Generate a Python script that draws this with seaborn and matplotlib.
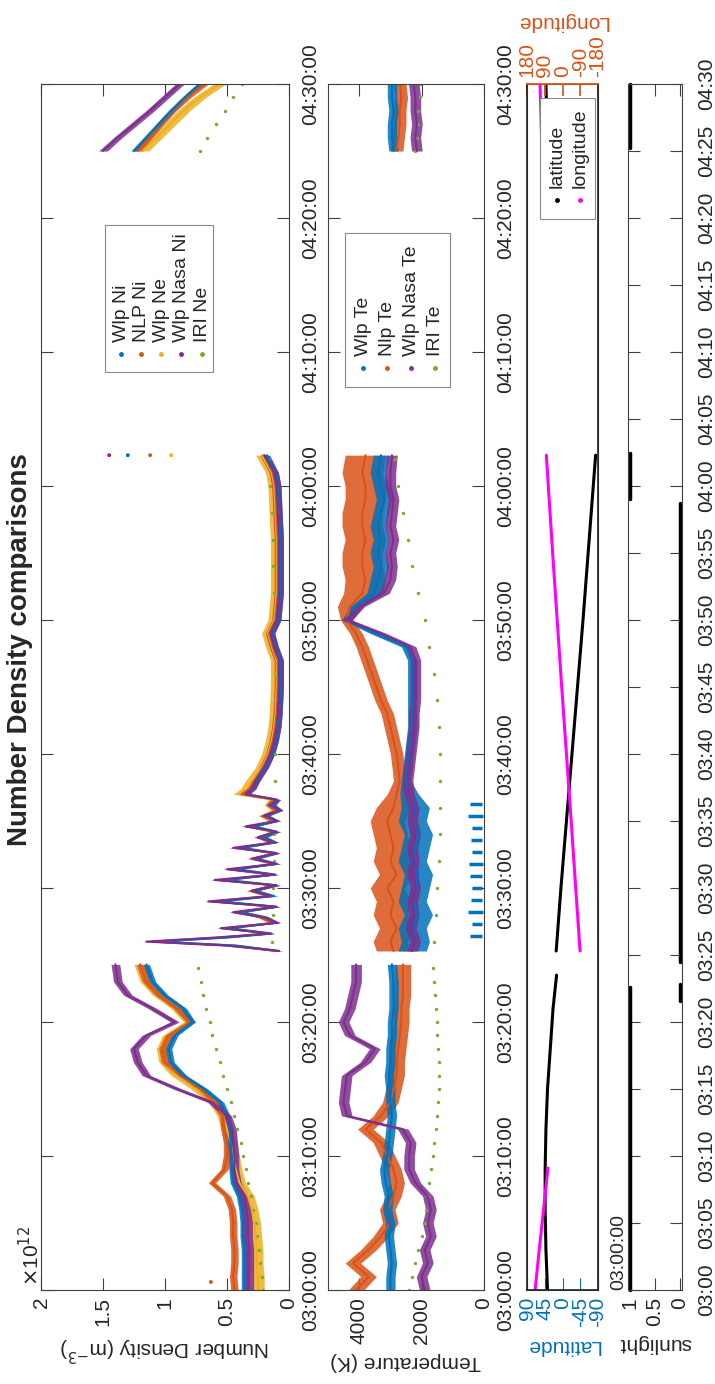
import numpy as np
import pandas as pd
import matplotlib
matplotlib.use("Agg")
import matplotlib.pyplot as plt
from matplotlib.patches import Rectangle
import seaborn as sns

# ---------------- data (time = minutes after 03:00:00) ----------------
time_labels_10 = ["03:00:00", "03:10:00", "03:20:00", "03:30:00", "03:40:00",
                  "03:50:00", "04:00:00", "04:10:00", "04:20:00", "04:30:00"]
time_labels_5 = ["03:00", "03:05", "03:10", "03:15", "03:20", "03:25", "03:30",
                 "03:35", "03:40", "03:45", "03:50", "03:55", "04:00", "04:05",
                 "04:10", "04:15", "04:20", "04:25", "04:30"]

t_A = [0, 1, 2, 3, 4, 5, 6, 7, 8, 9, 10, 11, 12, 13, 14, 15, 16, 17, 18, 19, 20, 21, 22, 23, 24.3]
t_B = [25.3, 25.7, 26.0, 26.3, 26.6, 27.0, 27.4, 27.8, 28.2, 28.6, 29.0, 29.4, 29.8, 30.2,
       30.6, 31.0, 31.4, 31.8, 32.2, 32.6, 33.0, 33.4, 33.8, 34.2, 34.6, 35.0, 35.4, 35.8,
       36.2, 36.6, 37.0, 37.4, 38, 39, 40, 41, 42, 43, 45, 47, 48, 49, 50, 52, 54, 56,
       58, 60, 61, 62.3]
t_C = [85, 86, 87, 88, 89, 90]

# Number density (x 1e12 m^-3)
wlp_ni_A = [0.36, 0.36, 0.36, 0.36, 0.37, 0.37, 0.38, 0.40, 0.45, 0.46, 0.46, 0.47, 0.48,
            0.50, 0.55, 0.68, 0.85, 0.95, 0.97, 0.92, 0.78, 0.85, 1.00, 1.10, 1.15]
nlp_ni_A = [0.44, 0.45, 0.44, 0.44, 0.45, 0.45, 0.46, 0.50, 0.62, 0.52, 0.50, 0.50, 0.52,
            0.53, 0.60, 0.72, 0.88, 1.00, 1.02, 0.97, 0.80, 0.90, 1.05, 1.15, 1.20]
wlp_ne_A = [0.25, 0.25, 0.26, 0.26, 0.27, 0.28, 0.30, 0.33, 0.40, 0.43, 0.45, 0.47, 0.50,
            0.53, 0.60, 0.74, 0.90, 1.00, 1.02, 0.97, 0.80, 0.90, 1.05, 1.15, 1.20]
nasa_ni_A = [0.32, 0.32, 0.32, 0.32, 0.33, 0.33, 0.34, 0.36, 0.42, 0.44, 0.44, 0.45, 0.46,
             0.50, 0.62, 0.90, 1.15, 1.22, 1.25, 1.15, 0.92, 1.10, 1.30, 1.38, 1.40]

wlp_ni_B = [0.08, 0.42, 1.05, 0.50, 0.14, 0.48, 0.10, 0.18, 0.38, 0.10, 0.55, 0.12, 0.27, 0.10,
            0.50, 0.11, 0.42, 0.10, 0.26, 0.10, 0.38, 0.11, 0.20, 0.10, 0.28, 0.10, 0.18, 0.08,
            0.13, 0.10, 0.34, 0.30, 0.26, 0.19, 0.14, 0.11, 0.09, 0.08, 0.07, 0.07, 0.11, 0.14,
            0.09, 0.07, 0.07, 0.07, 0.08, 0.09, 0.11, 0.18]
nlp_ni_B = [0.10, 0.45, 1.10, 0.55, 0.18, 0.50, 0.12, 0.22, 0.40, 0.12, 0.60, 0.15, 0.30, 0.12,
            0.55, 0.13, 0.45, 0.12, 0.28, 0.12, 0.40, 0.13, 0.22, 0.12, 0.30, 0.12, 0.20, 0.10,
            0.15, 0.12, 0.38, 0.32, 0.28, 0.21, 0.16, 0.13, 0.11, 0.10, 0.09, 0.09, 0.13, 0.16,
            0.11, 0.09, 0.09, 0.09, 0.10, 0.11, 0.13, 0.20]
wlp_ne_B = [0.10, 0.45, 1.10, 0.55, 0.16, 0.50, 0.12, 0.20, 0.40, 0.12, 0.60, 0.14, 0.30, 0.12,
            0.55, 0.13, 0.45, 0.12, 0.28, 0.12, 0.40, 0.13, 0.22, 0.12, 0.30, 0.12, 0.20, 0.10,
            0.15, 0.12, 0.40, 0.34, 0.30, 0.22, 0.17, 0.14, 0.12, 0.11, 0.10, 0.10, 0.14, 0.17,
            0.12, 0.10, 0.10, 0.10, 0.11, 0.12, 0.14, 0.22]
nasa_ni_B = [0.08, 0.50, 1.15, 0.60, 0.15, 0.55, 0.10, 0.20, 0.45, 0.10, 0.65, 0.15, 0.30, 0.10,
             0.60, 0.12, 0.50, 0.10, 0.30, 0.10, 0.45, 0.12, 0.25, 0.10, 0.35, 0.10, 0.20, 0.08,
             0.15, 0.10, 0.35, 0.30, 0.27, 0.20, 0.15, 0.12, 0.10, 0.09, 0.08, 0.08, 0.12, 0.15,
             0.10, 0.08, 0.08, 0.08, 0.09, 0.10, 0.12, 0.20]

wlp_ni_C = [1.25, 1.15, 1.05, 0.95, 0.84, 0.72]
nlp_ni_C = [1.22, 1.13, 1.04, 0.94, 0.82, 0.68]
wlp_ne_C = [1.18, 1.07, 0.96, 0.85, 0.72, 0.56]
nasa_ni_C = [1.50, 1.38, 1.25, 1.12, 1.00, 0.88]

iri_t = [0, 1, 2, 3, 4, 5, 6, 7, 8, 9, 10, 11, 12, 13, 14, 15, 16, 17, 18, 19, 20, 21, 22, 23, 24,
         26, 28, 30, 32, 34, 36, 38, 40, 42, 44, 46, 48, 50, 52, 54, 56, 58, 60, 62,
         85, 86, 87, 88, 89, 90]
iri_ne = [0.21, 0.22, 0.23, 0.24, 0.26, 0.27, 0.29, 0.31, 0.33, 0.35, 0.37, 0.39, 0.42, 0.44,
          0.47, 0.50, 0.53, 0.56, 0.59, 0.62, 0.64, 0.67, 0.69, 0.71, 0.73,
          0.14, 0.13, 0.13, 0.12, 0.12, 0.11, 0.11, 0.11, 0.11, 0.11, 0.11, 0.12, 0.12, 0.12,
          0.13, 0.13, 0.14, 0.15, 0.16,
          0.72, 0.66, 0.59, 0.52, 0.45, 0.38]
outlier_t = [62.3, 62.3, 62.3, 62.3, 0.6]
outlier_v = [1.45, 1.30, 1.12, 0.95, 0.63]

# Temperature (K)
tt_B = [25.3, 26, 27, 28, 29, 30, 31, 32, 33, 34, 35, 36, 37, 38, 39, 40, 41, 42, 43, 44, 45,
        46, 47, 48, 49, 50, 51, 52, 53, 54, 55, 56, 57, 58, 59, 60, 61, 62.3]
wlp_te_A = [3000, 3000, 2950, 3000, 3050, 3000, 3100, 3050, 3150, 3200, 3100, 3050, 3000,
            2950, 3000, 3000, 3050, 3000, 3000, 2950, 2950, 2900, 2900, 2900, 2950]
nlp_te_A = [4100, 3700, 4200, 3700, 3300, 3000, 3100, 2900, 2800, 2900, 3100, 3300, 3800,
            3300, 3000, 2900, 2800, 2800, 2750, 2700, 2650, 2650, 2600, 2600, 2600]
nasa_te_A = [1900, 2000, 1800, 1900, 1700, 1800, 1700, 1800, 2200, 2400, 2400, 2350, 2600,
             4400, 4500, 4450, 4400, 3800, 3500, 4300, 4500, 4300, 4200, 4100, 4100]
wlp_te_B = [2300, 2200, 2300, 2100, 2300, 2200, 2100, 2300, 2200, 2100, 2300, 2200, 2400,
            2500, 2450, 2400, 2350, 2300, 2300, 2300, 2300, 2300, 2300, 2500, 3500, 4400,
            4100, 3500, 3400, 3300, 3400, 3300, 3400, 3300, 3200, 3300, 3400, 3300]
wlp_te_B_spread = [450, 450, 450, 450, 450, 450, 450, 450, 450, 450, 450, 450, 300, 150,
                   150, 150, 150, 150, 150, 150, 150, 150, 150, 150, 150, 150, 200, 250,
                   250, 250, 250, 250, 250, 250, 250, 250, 250, 250]
nlp_te_B = [2900, 3000, 2800, 3000, 2900, 3100, 2800, 3000, 2900, 3000, 3100, 2900, 2800,
            2700, 2750, 2800, 2900, 3000, 3100, 3300, 3450, 3600, 3750, 3900, 4100, 4400,
            4300, 3900, 3800, 3900, 3900, 3800, 3900, 3900, 3800, 3800, 3900, 3800]
nlp_te_B_spread = [550, 550, 550, 550, 550, 550, 550, 550, 550, 550, 550, 550, 300, 200,
                   200, 200, 200, 200, 200, 200, 200, 200, 200, 200, 200, 200, 400, 600,
                   650, 650, 650, 650, 650, 650, 650, 650, 650, 650]
nasa_te_B = [2300, 2200, 2350, 2250, 2300, 2200, 2300, 2250, 2300, 2200, 2300, 2250, 2400,
             2450, 2400, 2350, 2300, 2250, 2250, 2200, 2200, 2200, 2200, 2350, 3300, 4400,
             4000, 3200, 3000, 2950, 3000, 2900, 3000, 2950, 2900, 3000, 3000, 2950]
wlp_te_C = [2900, 2950, 2950, 2900, 2950, 2950]
nlp_te_C = [2800, 2750, 2700, 2700, 2650, 2700]
nasa_te_C = [2150, 2200, 2150, 2200, 2200, 2250]
iri_te = [2400, 2300, 2200, 2100, 2000, 1900, 1850, 1800, 1750, 1700, 1650, 1600, 1550,
          1500, 1480, 1450, 1450, 1450, 1480, 1500, 1520, 1550, 1580, 1600, 1620,
          1600, 1550, 1500, 1450, 1420, 1400, 1400, 1420, 1450, 1500, 1600, 1750, 1900,
          2100, 2300, 2450, 2600, 2750, 2850,
          2200, 2150, 2100, 2100, 2050, 2050]
# Wlp Te drop-outs (near zero) during 03:26-03:37: time, low and high temperature
drop_t = [26.4, 27.3, 28.2, 29.1, 30.0, 30.9, 31.8, 32.7, 33.6, 34.5, 35.4, 36.3]
drop_lo = [50, 80, 40, 60, 50, 80, 40, 60, 50, 70, 40, 60]
drop_hi = [450, 380, 500, 420, 400, 460, 480, 380, 420, 400, 500, 440]

# Position (degrees)
lat_t = [0, 3, 6, 9, 12, 15, 18, 21, 23.5, 25.3, 30, 35, 40, 45, 50, 55, 60, 62.3, 85.5, 90]
lat_v = [38, 42, 44, 44, 42, 38, 31, 24, 15, 16, 4, -10, -24, -38, -52, -65, -78, -84, 38, 42]
lat_seg = [0] * 9 + [1] * 9 + [2] * 2
lon_t = [0, 3, 6, 9.1, 25.3, 30, 35, 40, 45, 50, 55, 60, 62.3, 85.5, 90]
lon_v = [139, 118, 96, 74, -89, -67, -44, -20, 4, 27, 50, 72, 82, 105, 114]
lon_seg = [0] * 4 + [1] * 9 + [2] * 2

# Sunlight flag: start, end, value
sun_start = [0, 21.6, 24.5, 59.0, 85.2]
sun_end = [22.6, 22.8, 58.7, 62.5, 90]
sun_val = [1, 0, 0, 1, 1]

# ---------------- style ----------------
BLUE, ORANGE, YELLOW = "#0072BD", "#D95319", "#EDB120"
PURPLE, GREEN, MAG = "#7E2F8E", "#77AC30", "#FF00FF"
AXC = "#404040"
FS = 15

sns.set_theme(style="white")
plt.rcParams["font.family"] = ["Liberation Sans", "DejaVu Sans"]

W, H = 715, 1384
fig = plt.figure(figsize=(W / 100, H / 100), dpi=100)


def ax_at(x0, x1, y0, y1):
    return fig.add_axes([x0 / W, 1 - y1 / H, (x1 - x0) / W, (y1 - y0) / H])


TL = 8.6


def style_axes(ax, yt, ylab, xt, xlab, xlim, ylim=(0, 90), yva="center"):
    ax.set_ylim(*ylim)
    ax.set_xlim(*xlim)
    ax.set_yticks(yt)
    ax.set_yticklabels(ylab)
    ax.set_xticks(xt)
    ax.set_xticklabels(xlab)
    ax.tick_params(axis="y", direction="in", length=TL, width=0.8, color=AXC,
                   left=True, right=True, labelleft=False, labelright=True,
                   labelrotation=90, labelsize=FS, pad=9)
    ax.tick_params(axis="x", direction="in", length=TL, width=0.8, color=AXC,
                   top=True, bottom=True, labelrotation=90, labelsize=FS, pad=5)
    for lb in ax.get_yticklabels():
        lb.set_va(yva)
    for s in ax.spines.values():
        s.set_color(AXC)
        s.set_linewidth(0.8)
    ax.set_facecolor("white")


def band(ax, t, v, half, color):
    v = np.asarray(v, float)
    h = np.asarray(half, float)
    ax.fill_betweenx(t, v - h, v + h, color=color, lw=0, alpha=0.85)
    df = pd.DataFrame({"v": v, "t": t})
    sns.lineplot(data=df, x="v", y="t", orient="y", sort=False, estimator=None,
                 color=color, lw=1.5, ax=ax)


def legend_box(x0, x1, y0, y1, names, colors, xs, ym):
    # hand-built rotated legend, positions in figure pixels
    fig.patches.append(Rectangle((x0 / W, 1 - y1 / H), (x1 - x0) / W, (y1 - y0) / H,
                                 transform=fig.transFigure, fc="white", ec="#888888",
                                 lw=0.8, zorder=10))
    for n, c, x in zip(names, colors, xs):
        fig.text(x / W, 1 - (ym - 12) / H, n, rotation=90, ha="center", va="bottom",
                 fontsize=14, zorder=11)
        fig.lines.append(plt.Line2D([x / W], [1 - ym / H], marker="o", ms=2.5, color=c,
                                    ls="none", transform=fig.transFigure, zorder=11))


# ---------------- density panel ----------------
ax1 = ax_at(41, 289, 84, 1290)
style_axes(ax1, range(0, 91, 10), time_labels_10, [0, 0.5, 1, 1.5, 2],
           ["0", "0.5", "1", "1.5", "2"], (2, 0))
for seg_t, a, b, c, d in [(t_A, wlp_ne_A, nlp_ni_A, wlp_ni_A, nasa_ni_A),
                          (t_B, wlp_ne_B, nlp_ni_B, wlp_ni_B, nasa_ni_B),
                          (t_C, wlp_ne_C, nlp_ni_C, wlp_ni_C, nasa_ni_C)]:
    band(ax1, seg_t, a, 0.05, YELLOW)
    band(ax1, seg_t, b, 0.03, ORANGE)
    band(ax1, seg_t, c, 0.025, BLUE)
    band(ax1, seg_t, d, 0.035, PURPLE)
sns.scatterplot(x=iri_ne, y=iri_t, color=GREEN, s=6, linewidth=0, ax=ax1, legend=False)
sns.scatterplot(x=outlier_v, y=outlier_t, hue=[0, 1, 2, 3, 4],
                palette=[PURPLE, BLUE, ORANGE, YELLOW, ORANGE], s=8, linewidth=0,
                ax=ax1, legend=False)
ax1.set_xlim(2, 0)
ax1.set_ylim(0, 90)
ax1.set_xlabel("Number Density (m$^{-3}$)", fontsize=FS, rotation=180, labelpad=6)
ax1.set_ylabel("")
fig.text(31 / W, 1 - 1256 / H, r"$\times$10$^{12}$", rotation=90, ha="center",
         va="center", fontsize=15)
fig.text(20 / W, 1 - 650 / H, "Number Density comparisons", rotation=90,
         ha="center", va="center", fontsize=20, fontweight="bold")

# ---------------- temperature panel ----------------
ax2 = ax_at(328, 484, 84, 1290)
style_axes(ax2, range(0, 91, 10), time_labels_10, [0, 2000, 4000],
           ["0", "2000", "4000"], (5000, 0))
for seg_t, a, b, c, sa, sb in [(t_A, wlp_te_A, nlp_te_A, nasa_te_A, 150, 250),
                               (tt_B, wlp_te_B, nlp_te_B, nasa_te_B,
                                wlp_te_B_spread, nlp_te_B_spread),
                               (t_C, wlp_te_C, nlp_te_C, nasa_te_C, 150, 200)]:
    band(ax2, seg_t, b, sb, ORANGE)
    band(ax2, seg_t, a, sa, BLUE)
    band(ax2, seg_t, c, 170, PURPLE)
ax2.hlines(drop_t, drop_lo, drop_hi, color=BLUE, lw=2.5)
sns.scatterplot(x=iri_te, y=iri_t, color=GREEN, s=6, linewidth=0, ax=ax2, legend=False)
ax2.set_xlim(5000, 0)
ax2.set_ylim(0, 90)
ax2.set_xlabel("Temperature (K)", fontsize=FS, rotation=180, labelpad=6)
ax2.set_ylabel("")

# ---------------- latitude / longitude panel ----------------
ax3 = ax_at(527, 598, 84, 1290)
style_axes(ax3, [0], ["03:00:00"], [90, 45, 0, -45, -90],
           ["90", "45", "0", "-45", "-90"], (90, -90), yva="bottom")
ax3.tick_params(axis="x", colors=BLUE, top=False)
ax3.spines["bottom"].set_color(BLUE)
ax3.tick_params(axis="y", length=0, pad=9, labelsize=14)
lat_df = pd.DataFrame({"v": lat_v, "t": lat_t, "seg": lat_seg})
sns.lineplot(data=lat_df, x="v", y="t", units="seg", estimator=None, orient="y",
             sort=False, color="black", lw=2.2, ax=ax3)
ax3.set_xlim(90, -90)
ax3.set_ylim(0, 90)
ax3.set_xlabel("Latitude", fontsize=FS, rotation=180, color=BLUE, labelpad=6)
ax3.set_ylabel("")
ax3b = ax3.twiny()
lon_df = pd.DataFrame({"v": lon_v, "t": lon_t, "seg": lon_seg})
sns.lineplot(data=lon_df, x="v", y="t", units="seg", estimator=None, orient="y",
             sort=False, color=MAG, lw=2.2, ax=ax3b)
ax3b.set_xlim(180, -180)
ax3b.set_xticks([180, 90, 0, -90, -180])
ax3b.set_xticklabels(["180", "90", "0", "-90", "-180"])
ax3b.tick_params(axis="x", direction="in", length=TL, colors=ORANGE, labelsize=FS,
                 labelrotation=90, pad=5)
ax3b.spines["top"].set_color(ORANGE)
ax3b.set_xlabel("Longitude", fontsize=FS, rotation=180, color=ORANGE, labelpad=6)
ax3b.set_ylabel("")

# ---------------- sunlight panel ----------------
ax4 = ax_at(628, 682, 84, 1290)
style_axes(ax4, range(0, 91, 5), time_labels_5, [0, 0.5, 1], ["0", "0.5", "1"], (1, 0))
ax4.tick_params(axis="y", pad=11)
sun_df = pd.DataFrame({"v": np.repeat(sun_val, 2),
                       "t": np.ravel(np.column_stack([sun_start, sun_end])),
                       "seg": np.repeat(np.arange(len(sun_val)), 2)})
sns.lineplot(data=sun_df, x="v", y="t", units="seg", estimator=None, orient="y",
             sort=False, color="black", lw=2.5, ax=ax4, clip_on=False)
ax4.set_xlim(1.03, -0.04)
ax4.set_ylim(0, 90)
ax4.set_xlabel("sunlight", fontsize=FS, rotation=180, labelpad=6)
ax4.set_ylabel("")

# legends
legend_box(105, 213, 225, 372, ["Wlp Ni", "NLP Ni", "Wlp Ne", "Wlp Nasa Ni", "IRI Ne"],
           [BLUE, ORANGE, YELLOW, PURPLE, GREEN], [121, 141, 161, 181, 202], 354)
legend_box(345, 450, 233, 387, ["Wlp Te", "Nlp Te", "Wlp Nasa Te", "IRI Te"],
           [BLUE, ORANGE, PURPLE, GREEN], [363, 387, 411, 435], 368)
legend_box(540, 595, 98, 219, ["latitude", "longitude"], ["black", MAG],
           [557, 580], 200)

fig.savefig("out.png", dpi=100)
